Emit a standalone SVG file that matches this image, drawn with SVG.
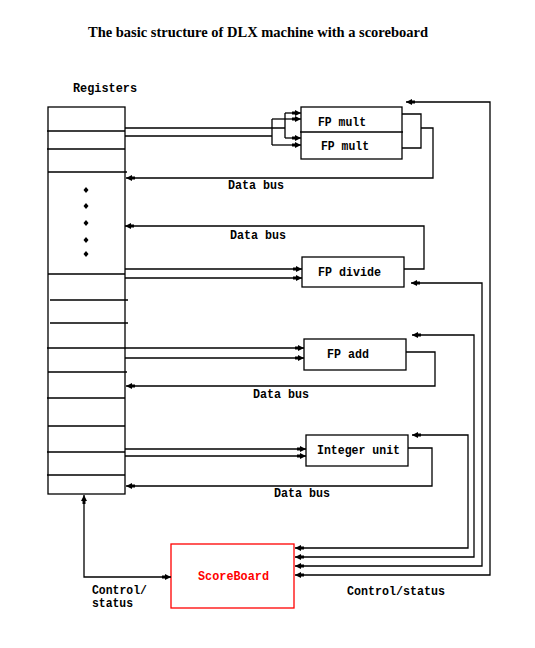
<svg xmlns="http://www.w3.org/2000/svg" width="535" height="648" viewBox="0 0 535 648">
<defs>
<marker id="ah" markerUnits="userSpaceOnUse" markerWidth="10" markerHeight="8" refX="9" refY="3.5" orient="auto-start-reverse" viewBox="0 0 10 8">
<path d="M0,2 L3,2 L3,0.5 L9,3.5 L3,6.5 L3,5 L0,5 z" fill="#000"/>
</marker>
<style>
.ln{fill:none;stroke:#000;stroke-width:1.3}
.box{fill:#fff;stroke:#000;stroke-width:1.3}
.m{font-family:"Liberation Mono","DejaVu Sans Mono",monospace;font-weight:bold;font-size:12.5px;fill:#000}
.t{font-family:"Liberation Serif","Times New Roman",serif;font-weight:bold;font-size:14px;fill:#000}
.a{marker-end:url(#ah)}
.b{marker-start:url(#ah);marker-end:url(#ah)}
</style>
</defs>
<rect width="535" height="648" fill="#fff"/>
<text class="t" x="88" y="37" textLength="340" lengthAdjust="spacingAndGlyphs">The basic structure of DLX machine with a scoreboard</text>

<g id="registers">
<text class="m" x="73" y="92" textLength="64" lengthAdjust="spacingAndGlyphs">Registers</text>
<rect class="box" x="48" y="107" width="77" height="387"/>
<path class="ln" d="M47,131H125M47,149H125M48,172H127M48,274H125M50,300H128M50,323H128M47,348H125M48,372H127M47,398H125M48,426H125M47,452H125M47,475H125"/>
<g fill="#000">
<path d="M86,187l2.5,3l-2.5,3l-2.5,-3z"/>
<path d="M86,203l2.5,3l-2.5,3l-2.5,-3z"/>
<path d="M86,220l2.5,3l-2.5,3l-2.5,-3z"/>
<path d="M86,237l2.5,3l-2.5,3l-2.5,-3z"/>
<path d="M86,251l2.5,3l-2.5,3l-2.5,-3z"/>
</g>
</g>

<g id="fpmult">
<rect class="box" x="301" y="107" width="101" height="52"/>
<path class="ln" d="M300,132H403"/>
<text class="m" x="318" y="126" textLength="48" lengthAdjust="spacingAndGlyphs">FP mult</text>
<text class="m" x="321" y="150" textLength="48" lengthAdjust="spacingAndGlyphs">FP mult</text>
</g>

<g id="fpdivide">
<rect class="box" x="302" y="257" width="102" height="30"/>
<text class="m" x="318" y="276" textLength="63" lengthAdjust="spacingAndGlyphs">FP divide</text>
</g>

<g id="fpadd">
<rect class="box" x="304" y="339" width="102" height="31"/>
<text class="m" x="327" y="358" textLength="42" lengthAdjust="spacingAndGlyphs">FP add</text>
</g>

<g id="integer">
<rect class="box" x="306" y="435" width="102" height="31"/>
<text class="m" x="317" y="454" textLength="83" lengthAdjust="spacingAndGlyphs">Integer unit</text>
</g>

<g id="scoreboard">
<rect x="171" y="544" width="123" height="64" fill="#fff" stroke="#f00" stroke-width="1.3"/>
<text class="m" x="198" y="580" textLength="71" lengthAdjust="spacingAndGlyphs" style="fill:#f00">ScoreBoard</text>
</g>

<g id="connectors">
<path class="ln" d="M125,128H285M285,113V138"/>
<path class="ln" d="M125,136H272M272,119V145"/>
<path class="ln a" d="M285,113H301"/>
<path class="ln a" d="M285,138H301"/>
<path class="ln a" d="M272,119H301"/>
<path class="ln a" d="M272,145H301"/>
<path class="ln" d="M402,114H421V148H402"/>
<path class="ln a" d="M421,128H433V178H126"/>
<path class="ln b" d="M406,102H490V575H295"/>

<path class="ln a" d="M125,269H302"/>
<path class="ln a" d="M125,278H302"/>
<path class="ln a" d="M404,269H424V226H125"/>
<path class="ln b" d="M411,283H482V566H295"/>

<path class="ln a" d="M125,348H304"/>
<path class="ln a" d="M125,358H304"/>
<path class="ln a" d="M406,352H435V386H126"/>
<path class="ln b" d="M412,335H474V557H295"/>

<path class="ln a" d="M125,449H306"/>
<path class="ln a" d="M125,456H306"/>
<path class="ln a" d="M408,448H432V486H126"/>
<path class="ln b" d="M412,435H468V548H295"/>

<path class="ln b" d="M84,495V577H171"/>
</g>

<g id="labels">
<text class="m" x="228" y="189" textLength="56" lengthAdjust="spacingAndGlyphs">Data bus</text>
<text class="m" x="230" y="239" textLength="56" lengthAdjust="spacingAndGlyphs">Data bus</text>
<text class="m" x="253" y="398" textLength="56" lengthAdjust="spacingAndGlyphs">Data bus</text>
<text class="m" x="274" y="497" textLength="56" lengthAdjust="spacingAndGlyphs">Data bus</text>
<text class="m" x="92" y="594" textLength="55" lengthAdjust="spacingAndGlyphs">Control/</text>
<text class="m" x="92" y="607" textLength="41" lengthAdjust="spacingAndGlyphs">status</text>
<text class="m" x="347" y="595" textLength="98" lengthAdjust="spacingAndGlyphs">Control/status</text>
</g>
</svg>
